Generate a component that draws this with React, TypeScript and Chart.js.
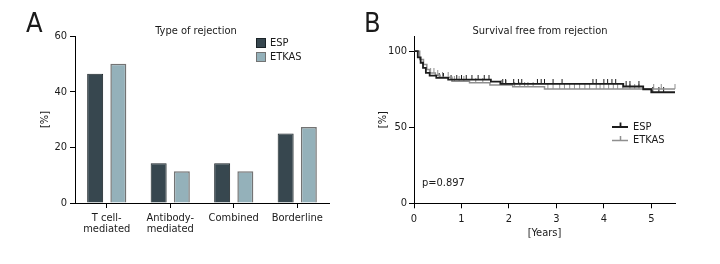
import React, { useEffect, useRef } from "react";
import { Chart, registerables } from "chart.js";

Chart.register(...registerables);

const FONT = "'DejaVu Sans Condensed', 'Liberation Sans Narrow', sans-serif";
const TEXT = "#1a1a1a";
const FS = 11;

// Panel A data
const TITLE_A = "Type of rejection";
const categories: (string | string[])[] = [["T cell-", "mediated"], ["Antibody-", "mediated"], "Combined", "Borderline"];
const espPct = [46.4, 14.3, 14.3, 25.0];
const etkasPct = [50.0, 11.4, 11.4, 27.3];
const yTicksA = [0, 20, 40, 60];

// Panel B data
const TITLE_B = "Survival free from rejection";
const P_VALUE = "p=0.897";
const espTimes = [0, 0.08, 0.14, 0.19, 0.25, 0.33, 0.47, 0.72, 1.62, 1.82, 4.41, 4.83, 5.0, 5.5];
const espSurv = [100, 96, 92.4, 89, 85.8, 84, 82.5, 81.3, 80, 78.5, 76.8, 75, 73, 73];
const etkasTimes = [0, 0.12, 0.2, 0.27, 0.33, 0.45, 0.55, 0.8, 1.17, 1.6, 2.08, 2.75, 5.5];
const etkasSurv = [100, 94.5, 91.3, 88, 85.7, 84.2, 82.8, 80.2, 79.2, 77.8, 76.6, 75.2, 75.2];
const espCensor = [0.53, 0.62, 0.78, 0.9, 1.0, 1.1, 1.22, 1.35, 1.48, 1.58, 1.87, 1.93, 2.1, 2.2, 2.27, 2.6, 2.68, 2.75, 2.93, 3.12, 3.77, 3.84, 4.0, 4.08, 4.17, 4.25, 4.47, 4.55, 4.74, 5.03, 5.16, 5.26];
const etkasCensor = [0.35, 0.42, 0.5, 0.6, 0.72, 0.85, 0.95, 1.05, 1.3, 1.45, 1.84, 1.94, 2.12, 2.23, 2.33, 2.4, 2.51, 2.82, 2.93, 3.07, 3.17, 3.28, 3.38, 3.49, 3.6, 3.7, 3.84, 3.92, 4.0, 4.1, 4.2, 4.29, 4.4, 4.55, 4.65, 4.74, 5.05, 5.21, 5.5];

const ESP_BAR = "#37474f";
const ESP_BAR_BORDER = "#1b2327";
const ETKAS_BAR = "#94b1ba";
const ETKAS_BAR_BORDER = "#737373";
const ESP_LINE = "#1c1c1c";
const ETKAS_LINE = "#8f8f8f";

function survAt(times: number[], surv: number[], t: number) {
  let v = surv[0];
  for (let i = 0; i < times.length; i++) if (times[i] <= t) v = surv[i];
  return v;
}

function tickImg(color: string) {
  const c = document.createElement("canvas");
  c.width = 3;
  c.height = 10;
  const g = c.getContext("2d")!;
  g.fillStyle = color;
  g.fillRect(1, 0, 1, 5);
  return c;
}

const axisCommon = {
  border: { color: "#000", width: 1 },
  grid: { drawOnChartArea: false, tickLength: 5, color: "#000", lineWidth: 1 },
};

export default function App() {
  const refA = useRef<HTMLCanvasElement>(null);
  const refB = useRef<HTMLCanvasElement>(null);

  useEffect(() => {
    Chart.defaults.font.family = FONT;
    Chart.defaults.font.size = FS;
    Chart.defaults.color = TEXT;

    const pluginA = {
      id: "panelA",
      afterDraw(chart: any) {
        const ctx = chart.ctx;
        ctx.save();
        ctx.fillStyle = TEXT;
        ctx.font = `27px ${FONT}`;
        ctx.textAlign = "left";
        ctx.textBaseline = "alphabetic";
        ctx.fillText("A", 26, 32);
        ctx.font = `${FS}px ${FONT}`;
        ctx.textAlign = "center";
        ctx.textBaseline = "middle";
        ctx.fillText(TITLE_A, 196, 31);
        chart.data.datasets.forEach((ds: any, i: number) => {
          const y = 38 + i * 14;
          ctx.fillStyle = ds.backgroundColor;
          ctx.fillRect(256, y, 10, 10);
          ctx.strokeStyle = ds.borderColor;
          ctx.lineWidth = 1;
          ctx.strokeRect(256.5, y + 0.5, 9, 9);
          ctx.fillStyle = TEXT;
          ctx.textAlign = "left";
          ctx.fillText(ds.label, 270, y + 5);
        });
        ctx.restore();
      },
    };

    const chartA = new Chart(refA.current!, {
      type: "bar",
      data: {
        labels: categories as any,
        datasets: [
          { label: "ESP", data: espPct, backgroundColor: ESP_BAR, borderColor: ESP_BAR_BORDER, borderWidth: 1 },
          { label: "ETKAS", data: etkasPct, backgroundColor: ETKAS_BAR, borderColor: ETKAS_BAR_BORDER, borderWidth: 1.5 },
        ],
      },
      options: {
        responsive: false,
        animation: false,
        devicePixelRatio: 1,
        events: [],
        datasets: { bar: { categoryPercentage: 0.73, barPercentage: 0.69 } } as any,
        layout: { padding: { left: 35, right: 31, top: 36, bottom: 11 } },
        plugins: { legend: { display: false }, tooltip: { enabled: false }, title: { display: false } },
        scales: {
          x: {
            ...axisCommon,
            grid: { ...axisCommon.grid, offset: false },
            ticks: { padding: 4, font: { size: FS, lineHeight: 1.06 }, maxRotation: 0, autoSkip: false },
            afterFit: (s: any) => { s.height = 50; },
          },
          y: {
            ...axisCommon,
            min: 0,
            max: 60,
            afterBuildTicks: (s: any) => { s.ticks = yTicksA.map((v) => ({ value: v })); },
            ticks: { padding: 3, font: { size: FS } },
            title: { display: true, text: "[%]", font: { size: FS, lineHeight: 1.2 }, padding: { top: 4, bottom: 0 } },
            afterFit: (s: any) => { s.width = 40; },
          },
        },
      } as any,
      plugins: [pluginA],
    });

    const pluginB = {
      id: "panelB",
      afterDraw(chart: any) {
        const ctx = chart.ctx;
        ctx.save();
        ctx.fillStyle = TEXT;
        ctx.font = `27px ${FONT}`;
        ctx.textAlign = "left";
        ctx.textBaseline = "alphabetic";
        ctx.fillText("B", 4, 32);
        ctx.font = `${FS}px ${FONT}`;
        ctx.textAlign = "center";
        ctx.textBaseline = "middle";
        ctx.fillText(TITLE_B, 180, 31);
        ctx.textAlign = "left";
        ctx.fillText(P_VALUE, 62, 183);
        chart.data.datasets.slice(0, 2).forEach((ds: any, i: number) => {
          const y = 127 + i * 13.5;
          ctx.strokeStyle = ds.borderColor;
          ctx.lineWidth = ds.borderWidth;
          ctx.beginPath();
          ctx.moveTo(252, y);
          ctx.lineTo(268, y);
          ctx.moveTo(260.5, y);
          ctx.lineTo(260.5, y - 4.5);
          ctx.stroke();
          ctx.fillStyle = TEXT;
          ctx.fillText(ds.label, 273, y);
        });
        ctx.restore();
      },
    };

    const img1 = tickImg(ESP_LINE);
    const img2 = tickImg(ETKAS_LINE);

    const chartB = new Chart(refB.current!, {
      type: "scatter",
      data: {
        datasets: [
          { label: "ESP", data: espTimes.map((t, i) => ({ x: t, y: espSurv[i] })), showLine: true, stepped: "before", borderColor: ESP_LINE, borderWidth: 1.8, pointRadius: 0 },
          { label: "ETKAS", data: etkasTimes.map((t, i) => ({ x: t, y: etkasSurv[i] })), showLine: true, stepped: "before", borderColor: ETKAS_LINE, borderWidth: 1.5, pointRadius: 0 },
          { label: "ESP censored", data: espCensor.map((t) => ({ x: t, y: survAt(espTimes, espSurv, t) })), showLine: false, pointStyle: img1, pointRadius: 3, clip: 8 },
          { label: "ETKAS censored", data: etkasCensor.map((t) => ({ x: t, y: survAt(etkasTimes, etkasSurv, t) })), showLine: false, pointStyle: img2, pointRadius: 3, clip: 8 },
        ],
      },
      options: {
        responsive: false,
        animation: false,
        devicePixelRatio: 1,
        events: [],
        layout: { padding: { left: 14, right: 45, top: 36, bottom: 20.7 } },
        plugins: { legend: { display: false }, tooltip: { enabled: false }, title: { display: false } },
        scales: {
          x: {
            ...axisCommon,
            type: "linear",
            min: 0,
            max: 5.5,
            ticks: { stepSize: 1, includeBounds: false, padding: 4, font: { size: FS } },
            title: { display: true, text: "[Years]", font: { size: FS, lineHeight: 1.2 }, padding: { top: 0, bottom: 4 } },
            afterFit: (s: any) => { s.height = 40; },
          },
          y: {
            ...axisCommon,
            min: 0,
            max: 110,
            ticks: { stepSize: 50, includeBounds: false, padding: 2, font: { size: FS } },
            title: { display: true, text: "[%]", font: { size: FS, lineHeight: 1.2 }, padding: { top: 3, bottom: 0 } },
            afterFit: (s: any) => { s.width = 40; },
          },
        },
      } as any,
      plugins: [pluginB],
    });

    return () => {
      chartA.destroy();
      chartB.destroy();
    };
  }, []);

  return (
    <div style={{ position: "absolute", left: 0, top: 0, width: 720, height: 264, background: "#fff", display: "flex" }}>
      <canvas ref={refA} width={360} height={264} style={{ display: "block" }} />
      <canvas ref={refB} width={360} height={264} style={{ display: "block" }} />
    </div>
  );
}
